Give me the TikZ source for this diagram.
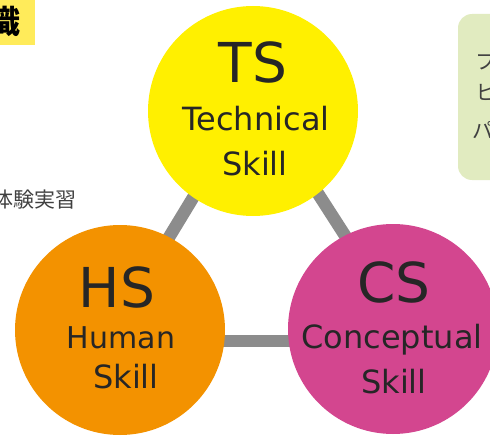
\documentclass[tikz,border=0pt]{standalone}
\usepackage{fontspec}
\setmainfont{DejaVu Sans}
\newfontfamily\jpfont{Noto Sans CJK JP}

\definecolor{tsyellow}{HTML}{FFF000}
\definecolor{hsorange}{HTML}{F39200}
\definecolor{cspink}{HTML}{D3468F}
\definecolor{linkgray}{HTML}{8C8C8C}
\definecolor{tagyellow}{HTML}{FFEB5A}
\definecolor{notegreen}{HTML}{E1EBC0}
\definecolor{inkgray}{HTML}{262626}

\tikzset{
	skill/.style={circle,minimum size=210pt,inner sep=0pt},
	abbr/.style={anchor=base,inner sep=0pt,text=inkgray,font=\fontsize{55}{55}\selectfont},
	skillname/.style={anchor=base,inner sep=0pt,text=inkgray,font=\fontsize{32}{32}\selectfont},
	link/.style={line width=12.5pt,draw=linkgray},
	jptext/.style={inner sep=0pt,text=black!75,font=\jpfont\fontsize{21}{21}\selectfont}
}

\begin{document}
\begin{tikzpicture}[x=1pt,y=-1pt]
		\useasboundingbox (0,0) rectangle (490,436);
		\clip (0,0) rectangle (490,436);
		%tag top left
		\fill[tagyellow] (0,0) rectangle (35,45);
		\node[jptext,text=black,font=\jpfont\bfseries\fontsize{32}{32}\selectfont] (tag) at (5,21) {識};
		\node[jptext,anchor=east] (taiken) at (77,200) {体験実習};
		%note box top right
		\fill[notegreen,rounded corners=14pt] (458,14) rectangle (530,180);
		\node[jptext,anchor=west] (note1) at (475,62) {フ};
		\node[jptext,anchor=west] (note2) at (475,92) {ヒ};
		\node[jptext,anchor=west] (note3) at (472,130) {パ};
		%links between the skills
		\coordinate (tsl) at (222,150);
		\coordinate (hst) at (137,290);
		\coordinate (tsr) at (290,150);
		\coordinate (cst) at (380,290);
		\coordinate (hsr) at (170,341);
		\coordinate (csl) at (340,341);
		\draw[link] (tsl) -- (hst);
		\draw[link] (tsr) -- (cst);
		\draw[link] (hsr) -- (csl);
		%skill circles
		\node[skill,fill=tsyellow] (ts) at (253,111) {};
		\node[skill,fill=hsorange] (hs) at (120,330) {};
		\node[skill,fill=cspink] (cs) at (393,329) {};
		%TS
		\node[abbr] (tsabbr) at (253,83) {TS};
		\node[skillname] (tsname) at (256,130) {Technical};
		\node[skillname] (tsskill) at (255,175) {Skill};
		%HS
		\node[abbr] (hsabbr) at (117,307) {HS};
		\node[skillname,font=\fontsize{30}{30}\selectfont] (hsname) at (121,348) {Human};
		\node[skillname] (hsskill) at (126,388) {Skill};
		%CS
		\node[abbr] (csabbr) at (394,302) {CS};
		\node[skillname] (csname) at (392,348) {Conceptual};
		\node[skillname] (csskill) at (394,393) {Skill};
\end{tikzpicture}
\end{document}
